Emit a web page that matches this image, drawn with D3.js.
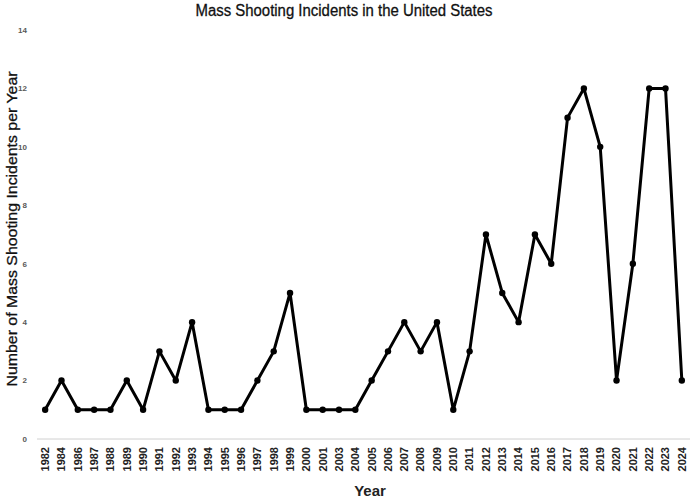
<!DOCTYPE html>
<html><head><meta charset="utf-8">
<script src="https://cdn.jsdelivr.net/npm/d3@7"></script>
<style>body{margin:0;background:#fff}svg{display:block}</style>
</head><body>
<svg id="c" width="691" height="501"></svg>
<script>
const years = ["1982","1984","1986","1987","1988","1989","1990","1991","1992","1993","1994","1995","1996","1997","1998","1999","2000","2001","2003","2004","2005","2006","2007","2008","2009","2010","2011","2012","2013","2014","2015","2016","2017","2018","2019","2020","2021","2022","2023","2024"];
const incidents = [1,2,1,1,1,2,1,3,2,4,1,1,1,2,3,5,1,1,1,1,2,3,4,3,4,1,3,7,5,4,7,6,11,12,10,2,6,12,12,2];
const yTicks = [0,2,4,6,8,10,12,14];
const title = "Mass Shooting Incidents in the United States";
const xTitle = "Year";
const yTitle = "Number of Mass Shooting Incidents per Year";

const svg = d3.select("#c");
const font = "'Liberation Sans', Arial, sans-serif";
const x = d3.scaleBand().domain(years).range([37, 690]);
const y = d3.scaleLinear().domain([0, 14]).range([439, 30]);
const cx = d => x(d) + x.bandwidth() / 2;

// title
svg.append("text").attr("x", 344).attr("y", 16).attr("text-anchor", "middle")
  .attr("font-family", font).attr("font-size", 16).attr("fill", "#111")
  .attr("stroke", "#111").attr("stroke-width", 0.3)
  .attr("textLength", 297).attr("lengthAdjust", "spacingAndGlyphs").text(title);

// y ticks
svg.append("g").selectAll("text").data(yTicks).join("text")
  .attr("x", 27).attr("y", d => y(d)).attr("dy", "0.35em").attr("text-anchor", "end")
  .attr("font-family", font).attr("font-size", 8).attr("font-weight", "bold").attr("fill", "#595959")
  .text(d => d);

// x axis line
svg.append("line").attr("x1", 37).attr("x2", 690).attr("y1", y(0)).attr("y2", y(0))
  .attr("stroke", "#d0d0d0").attr("stroke-width", 1);

// x tick labels
svg.append("g").selectAll("text").data(years).join("text")
  .attr("transform", d => `translate(${cx(d)},447) rotate(-90)`)
  .attr("dy", "0.35em").attr("text-anchor", "end")
  .attr("font-family", font).attr("font-size", 11).attr("font-weight", "bold").attr("fill", "#222")
  .text(d => d);

// axis titles
svg.append("text").attr("x", 370).attr("y", 496).attr("text-anchor", "middle")
  .attr("font-family", font).attr("font-size", 15).attr("font-weight", "bold").attr("fill", "#222")
  .text(xTitle);
svg.append("text").attr("transform", "translate(17,229) rotate(-90)").attr("text-anchor", "middle")
  .attr("font-family", font).attr("font-size", 15).attr("fill", "#111")
  .attr("stroke", "#111").attr("stroke-width", 0.3)
  .attr("textLength", 315).attr("lengthAdjust", "spacingAndGlyphs").text(yTitle);

// line
const line = d3.line().x((d, i) => cx(years[i])).y(d => y(d));
svg.append("path").datum(incidents).attr("d", line).attr("fill", "none")
  .attr("stroke", "#000").attr("stroke-width", 3).attr("stroke-linejoin", "round");
svg.append("g").selectAll("circle").data(incidents).join("circle")
  .attr("cx", (d, i) => cx(years[i])).attr("cy", d => y(d)).attr("r", 3.2).attr("fill", "#000");
</script>
</body></html>
